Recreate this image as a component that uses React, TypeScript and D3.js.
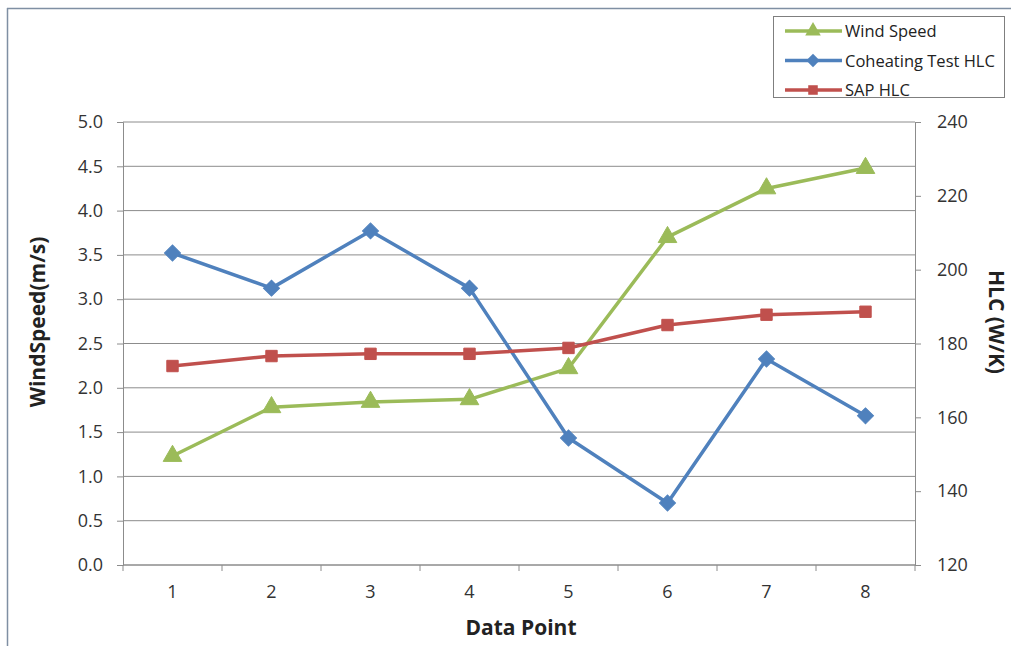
import React, { useEffect, useRef } from "react";
import * as d3 from "d3";

const categories = ["1", "2", "3", "4", "5", "6", "7", "8"];
const windSpeed = [1.23, 1.78, 1.84, 1.87, 2.22, 3.7, 4.25, 4.48];
const coheatingHLC = [204.5, 195, 210.5, 195, 154.4, 136.8, 175.8, 160.4];
const sapHLC = [173.9, 176.6, 177.2, 177.2, 178.8, 185, 187.8, 188.6];
const leftTicks = [0, 0.5, 1, 1.5, 2, 2.5, 3, 3.5, 4, 4.5, 5];
const rightTicks = [120, 140, 160, 180, 200, 220, 240];

const W = 1011, H = 646;
const L = 123, R = 915, T = 122, B = 565;
const FONT = "'Open Sans', 'Liberation Sans', sans-serif";

export default function App() {
  const ref = useRef<SVGSVGElement>(null);
  useEffect(() => {
    const svg = d3.select(ref.current);
    svg.selectAll("*").remove();

    const x = d3.scaleBand().domain(categories).range([L, R]);
    const yL = d3.scaleLinear().domain([0, 5]).range([B, T]);
    const yR = d3.scaleLinear().domain([120, 240]).range([B, T]);
    const cx = (c: string) => (x(c) as number) + x.bandwidth() / 2;

    svg.append("rect").attr("width", W).attr("height", H).attr("fill", "#fff");
    // frame
    svg.append("line").attr("x1", 7).attr("x2", W).attr("y1", 8.5).attr("y2", 8.5).attr("stroke", "#7f8fa3").attr("stroke-width", 1.5);
    svg.append("line").attr("x1", 7.5).attr("x2", 7.5).attr("y1", 8).attr("y2", H).attr("stroke", "#7f8fa3").attr("stroke-width", 1.5);

    // gridlines
    svg.append("g").selectAll("line").data(leftTicks).join("line")
      .attr("x1", L).attr("x2", R)
      .attr("y1", d => yL(d)).attr("y2", d => yL(d))
      .attr("stroke", "#8c8c8c").attr("stroke-width", 1);

    // left axis
    const gl = svg.append("g").attr("transform", `translate(${L},0)`)
      .call(d3.axisLeft(yL).tickValues(leftTicks).tickFormat(d3.format(".1f")).tickSize(6).tickPadding(14));
    gl.select(".domain").attr("stroke", "#8c8c8c");
    gl.selectAll(".tick line").attr("stroke", "#8c8c8c");
    gl.selectAll("text").attr("font-family", FONT).attr("font-size", 18).attr("fill", "#333");

    // right axis
    const gr = svg.append("g").attr("transform", `translate(${R},0)`)
      .call(d3.axisRight(yR).tickValues(rightTicks).tickSize(6).tickPadding(16));
    gr.select(".domain").attr("stroke", "#8c8c8c");
    gr.selectAll(".tick line").attr("stroke", "#8c8c8c");
    gr.selectAll("text").attr("font-family", FONT).attr("font-size", 18).attr("fill", "#333");

    // bottom axis
    svg.append("line").attr("x1", L).attr("x2", R).attr("y1", B).attr("y2", B).attr("stroke", "#8c8c8c");
    const bounds = d3.range(categories.length + 1).map(i => L + i * x.step());
    svg.append("g").selectAll("line").data(bounds).join("line")
      .attr("x1", d => d).attr("x2", d => d).attr("y1", B).attr("y2", B + 6).attr("stroke", "#8c8c8c");
    svg.append("g").selectAll("text").data(categories).join("text")
      .attr("x", d => cx(d)).attr("y", B + 33).attr("text-anchor", "middle")
      .attr("font-family", FONT).attr("font-size", 18).attr("fill", "#333").text(d => d);

    // axis titles
    svg.append("text").attr("x", 521).attr("y", 635).attr("text-anchor", "middle")
      .attr("font-family", FONT).attr("font-size", 21).attr("font-weight", "bold").attr("fill", "#222").text("Data Point");
    svg.append("text").attr("transform", `translate(45,322) rotate(-90)`).attr("text-anchor", "middle")
      .attr("font-family", FONT).attr("font-size", 21).attr("font-weight", "bold").attr("fill", "#222").text("WindSpeed(m/s)");
    svg.append("text").attr("transform", `translate(989,322) rotate(90)`).attr("text-anchor", "middle")
      .attr("font-family", FONT).attr("font-size", 21).attr("font-weight", "bold").attr("fill", "#222").text("HLC (W/K)");

    const series = [
      { name: "Wind Speed", vals: windSpeed, y: yL, color: "#9BBB59", sym: d3.symbolTriangle, size: 150, rot: 0 },
      { name: "Coheating Test HLC", vals: coheatingHLC, y: yR, color: "#4F81BD", sym: d3.symbolSquare, size: 128, rot: 45 },
      { name: "SAP HLC", vals: sapHLC, y: yR, color: "#C0504D", sym: d3.symbolSquare, size: 130, rot: 0 },
    ];

    series.forEach(s => {
      const line = d3.line<number>().x((_, j) => cx(categories[j])).y(v => s.y(v));
      svg.append("path").attr("d", line(s.vals)).attr("fill", "none")
        .attr("stroke", s.color).attr("stroke-width", 3.5).attr("stroke-linejoin", "round");
      svg.append("g").selectAll("path").data(s.vals).join("path")
        .attr("transform", (v, j) => `translate(${cx(categories[j])},${s.y(v)}) rotate(${s.rot})`)
        .attr("d", d3.symbol().type(s.sym).size(s.size)())
        .attr("fill", s.color).attr("stroke", s.color).attr("stroke-width", 1);
    });

    // legend
    const lg = svg.append("g");
    lg.append("rect").attr("x", 773.5).attr("y", 16.5).attr("width", 231).attr("height", 81)
      .attr("fill", "#fff").attr("stroke", "#7f7f7f");
    series.forEach((s, i) => {
      const yy = 31 + i * 29.5;
      lg.append("line").attr("x1", 785).attr("x2", 842).attr("y1", yy).attr("y2", yy)
        .attr("stroke", s.color).attr("stroke-width", 3.5);
      lg.append("path").attr("transform", `translate(813,${yy}) rotate(${s.rot})`)
        .attr("d", d3.symbol().type(s.sym).size(s.size * 0.7)()).attr("fill", s.color);
      lg.append("text").attr("x", 845).attr("y", yy + 6).attr("font-family", FONT).attr("font-size", 16.5)
        .attr("fill", "#222").text(s.name);
    });
  }, []);
  return (
    <svg ref={ref} width={W} height={H}
      style={{ position: "absolute", left: 0, top: 0, display: "block" }} />
  );
}
